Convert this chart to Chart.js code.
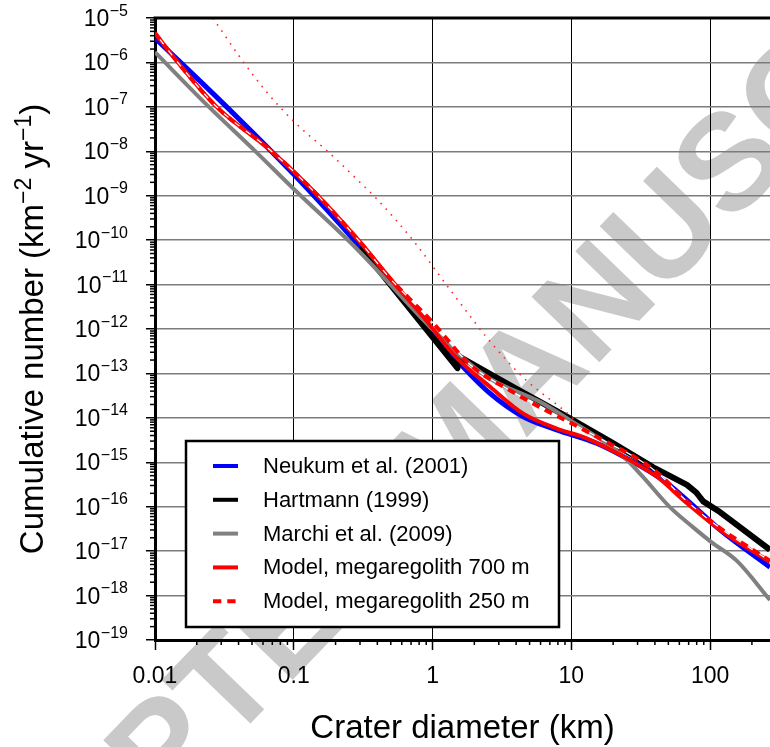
<!DOCTYPE html>
<html>
<head>
<meta charset="utf-8">
<script src="https://cdn.jsdelivr.net/npm/chart.js@4.4.1/dist/chart.umd.min.js"></script>
<style>
  html, body { margin: 0; padding: 0; background: #fff; }
  #wrap { width: 770px; height: 747px; }
</style>
</head>
<body>
<div id="wrap"><canvas id="craterChart" width="770" height="747"></canvas></div>
<script>
// values, stored as log10(D / km) and log10(N / km^-2 yr^-1)
const neukumLogD = [-2, -1.5, -1.0, -0.523, -0.2, 0.174, 0.414, 0.651, 0.894, 1.182, 1.422, 1.66, 1.833, 2.071, 2.431];
const neukumLogN = [-5.45, -6.95, -8.52, -10.15, -11.33, -12.70, -13.45, -13.97, -14.27, -14.57, -14.95, -15.40, -15.85, -16.52, -17.36];

const hartmannLogD = [-0.523, 0.18, 0.18, 0.579, 0.99, 1.3, 1.588, 1.833, 1.90, 1.95, 2.071, 2.431];
const hartmannLogN = [-10.15, -12.88, -12.60, -13.30, -14.01, -14.57, -15.11, -15.51, -15.68, -15.88, -16.12, -16.97];

const marchiLogD = [-2, -1.628, -1.267, -1.0, -0.545, -0.019, 0.2, 0.414, 0.774, 0.99, 1.3, 1.401, 1.516, 1.71, 1.876, 2.006, 2.193, 2.431];
const marchiLogN = [-5.77, -6.95, -8.03, -8.85, -10.2, -11.95, -12.6, -13.12, -13.64, -14.05, -14.68, -14.95, -15.33, -16.01, -16.46, -16.79, -17.22, -18.1];

const model700LogD = [-2, -1.82, -1.556, -1.171, -0.907, -0.523, -0.307, -0.069, 0.174, 0.414, 0.651, 0.894, 1.11, 1.422, 1.614, 1.833, 2.071, 2.431];
const model700LogN = [-5.34, -6.06, -7.0, -7.97, -8.74, -10.04, -10.86, -11.72, -12.65, -13.30, -13.90, -14.24, -14.46, -14.95, -15.32, -15.92, -16.52, -17.24];

const model250LogD = [-2, -1.82, -1.556, -1.171, -0.907, -0.523, -0.307, 0, 0.269, 0.579, 0.774, 1.012, 1.3, 1.444, 1.614, 1.833, 2.071, 2.431];
const model250LogN = [-5.34, -6.06, -7.0, -7.97, -8.74, -10.04, -10.86, -11.85, -12.80, -13.42, -13.76, -14.14, -14.62, -14.86, -15.22, -15.88, -16.48, -17.22];

const dottedLogD = [-1.65, -1.573, -1.393, -1.203, -0.986, -0.746, -0.516, -0.403, -0.139, 0.101, 0.246, 0.39, 0.656, 0.966, 1.026];
const dottedLogN = [-4.73, -5.05, -5.86, -6.64, -7.37, -8.03, -8.72, -9.07, -10.01, -11.01, -11.61, -12.19, -13.10, -13.88, -14.05];

const xDecades = [0.01, 0.1, 1, 10, 100];
const xTickLabels = ['0.01', '0.1', '1', '10', '100'];
const yExponents = [-19, -18, -17, -16, -15, -14, -13, -12, -11, -10, -9, -8, -7, -6, -5];

const seriesLabels = ['Neukum et al. (2001)', 'Hartmann (1999)', 'Marchi et al. (2009)',
  'Model, megaregolith 700 m', 'Model, megaregolith 250 m'];

const xMin = 0.01, xMax = 270;
const yMin = 1e-19, yMax = 1e-5;
const FONT = '"Liberation Sans", Arial, sans-serif';

function toPoints(logD, logN) {
  return logD.map((d, i) => ({ x: Math.pow(10, d), y: Math.pow(10, logN[i]) }));
}

// log ticks 1..9 x 10^n inside [min, max]
function logTicks(min, max) {
  const out = [];
  const e0 = Math.floor(Math.log10(min)), e1 = Math.ceil(Math.log10(max));
  for (let e = e0; e <= e1; e++) {
    for (let s = 1; s <= 9; s++) {
      const v = s * Math.pow(10, e);
      if (v >= min * 0.999 && v <= max * 1.001) out.push({ value: v, major: s === 1 });
    }
  }
  return out;
}

const decor = {
  id: 'decor',
  beforeDraw(chart) {
    const ctx = chart.ctx;
    ctx.save();
    ctx.fillStyle = '#fff';
    ctx.fillRect(0, 0, chart.width, chart.height);
    // watermark
    ctx.translate(460, 452);
    ctx.rotate(-46 * Math.PI / 180);
    ctx.fillStyle = '#c9c9ca';
    ctx.font = 'bold 137px ' + FONT;
    ctx.textAlign = 'center';
    ctx.textBaseline = 'middle';
    ctx.fillText('ACCEPTED MANUSCRIPT', 0, 0);
    ctx.restore();
  },
  afterDraw(chart) {
    const { ctx, chartArea: a, scales: { x, y } } = chart;
    ctx.save();

    // top frame line
    ctx.strokeStyle = '#000';
    ctx.lineWidth = 3;
    ctx.beginPath();
    ctx.moveTo(a.left - 1.5, a.top);
    ctx.lineTo(a.right, a.top);
    ctx.stroke();

    // minor ticks
    ctx.lineWidth = 1.5;
    x.ticks.forEach(t => {
      if (t.major) return;
      const px = x.getPixelForValue(t.value);
      ctx.beginPath(); ctx.moveTo(px, a.bottom); ctx.lineTo(px, a.bottom + 5); ctx.stroke();
    });
    y.ticks.forEach(t => {
      if (t.major) return;
      const py = y.getPixelForValue(t.value);
      ctx.beginPath(); ctx.moveTo(a.left - 5, py); ctx.lineTo(a.left, py); ctx.stroke();
    });

    // x tick labels
    ctx.fillStyle = '#000';
    ctx.font = '23px ' + FONT;
    ctx.textAlign = 'center';
    ctx.textBaseline = 'alphabetic';
    xDecades.forEach((v, i) => {
      ctx.fillText(xTickLabels[i], x.getPixelForValue(v), 683);
    });

    // y tick labels 10^n
    const labelRight = 128;
    yExponents.forEach(e => {
      const py = y.getPixelForValue(Math.pow(10, e));
      const sup = '\u2212' + Math.abs(e);
      ctx.font = '16px ' + FONT;
      const sw = ctx.measureText(sup).width;
      ctx.textAlign = 'left';
      ctx.fillText(sup, labelRight - sw, py - 2.5);
      ctx.font = '23px ' + FONT;
      ctx.textAlign = 'right';
      ctx.fillText('10', labelRight - sw - 0.5, py + 8);
    });

    // axis titles
    ctx.font = '33px ' + FONT;
    ctx.textAlign = 'center';
    ctx.fillText('Crater diameter (km)', (a.left + a.right) / 2, 738);

    ctx.save();
    ctx.translate(43, (a.top + a.bottom) / 2);
    ctx.rotate(-Math.PI / 2);
    const parts = [['Cumulative number (km', 33, 0], ['\u22122', 23, -12], [' yr', 33, 0], ['\u22121', 23, -12], [')', 33, 0]];
    let total = 0;
    parts.forEach(p => { ctx.font = p[1] + 'px ' + FONT; total += ctx.measureText(p[0]).width; });
    let cx = -total / 2;
    ctx.textAlign = 'left';
    parts.forEach(p => {
      ctx.font = p[1] + 'px ' + FONT;
      ctx.fillText(p[0], cx, p[2]);
      cx += ctx.measureText(p[0]).width;
    });
    ctx.restore();

    // legend box
    const box = { l: 186, t: 441, r: 559, b: 627 };
    ctx.fillStyle = '#fff';
    ctx.fillRect(box.l, box.t, box.r - box.l, box.b - box.t);
    ctx.strokeStyle = '#000';
    ctx.lineWidth = 2.5;
    ctx.strokeRect(box.l, box.t, box.r - box.l, box.b - box.t);
    ctx.font = '22px ' + FONT;
    ctx.textAlign = 'left';
    ctx.textBaseline = 'middle';
    const legendSets = chart.data.datasets.filter(d => d.label);
    legendSets.forEach((ds, i) => {
      const ly = 466 + i * 33.8;
      ctx.strokeStyle = ds.borderColor;
      ctx.lineWidth = 4;
      ctx.setLineDash(ds.borderDash ? [8.3, 6] : []);
      ctx.beginPath(); ctx.moveTo(213, ly); ctx.lineTo(238, ly); ctx.stroke();
      ctx.setLineDash([]);
      ctx.fillStyle = '#000';
      ctx.fillText(ds.label, 263, ly + 1);
    });
    ctx.restore();
  }
};

const ctxC = document.getElementById('craterChart').getContext('2d');

const model250Points = toPoints(model250LogD, model250LogN);

const dataC = {
  datasets: [{
    label: seriesLabels[0],
    data: toPoints(neukumLogD, neukumLogN),
    borderColor: 'rgb(0,0,255)',
    borderWidth: 5,
    cubicInterpolationMode: 'monotone',
    order: 7
  }, {
    label: seriesLabels[1],
    data: toPoints(hartmannLogD, hartmannLogN),
    borderColor: '#000',
    borderWidth: 6,
    tension: 0,
    order: 6
  }, {
    label: seriesLabels[2],
    data: toPoints(marchiLogD, marchiLogN),
    borderColor: 'rgb(128,128,128)',
    borderWidth: 4,
    cubicInterpolationMode: 'monotone',
    order: 5
  }, {
    label: seriesLabels[3],
    data: toPoints(model700LogD, model700LogN),
    borderColor: 'rgb(255,0,0)',
    borderWidth: 4,
    cubicInterpolationMode: 'monotone',
    order: 4
  }, {
    label: seriesLabels[4],
    data: model250Points,
    borderColor: 'rgb(255,0,0)',
    borderWidth: 4,
    borderDash: [8, 6],
    cubicInterpolationMode: 'monotone',
    order: 2
  }, {
    // thin white core seen in the gaps of the dashed pen
    label: '',
    data: model250Points,
    borderColor: '#fff',
    borderWidth: 1.2,
    cubicInterpolationMode: 'monotone',
    order: 3
  }, {
    label: '',
    data: toPoints(dottedLogD, dottedLogN),
    borderColor: 'rgb(255,40,40)',
    borderWidth: 1.6,
    borderDash: [1.6, 6],
    cubicInterpolationMode: 'monotone',
    order: 1
  }]
};

const configC = {
  type: 'line',
  data: dataC,
  options: {
    responsive: false,
    animation: false,
    devicePixelRatio: 1,
    parsing: false,
    normalized: true,
    layout: { padding: { left: 155, top: 18, right: 0, bottom: 107 } },
    elements: { point: { radius: 0 }, line: { borderCapStyle: 'butt', borderJoinStyle: 'round' } },
    datasets: { line: { clip: 0 } },
    plugins: { legend: { display: false }, tooltip: { enabled: false } },
    scales: {
      x: {
        type: 'logarithmic',
        min: xMin,
        max: xMax,
        afterBuildTicks: s => { s.ticks = logTicks(xMin, xMax); },
        afterFit: s => { s.height = 0; },
        ticks: { display: false, autoSkip: false },
        border: { color: '#000', width: 3 },
        grid: {
          color: c => (c.tick && c.tick.major ? '#000' : 'rgba(0,0,0,0)'),
          lineWidth: 1,
          tickColor: c => (c.tick && c.tick.major ? '#000' : 'rgba(0,0,0,0)'),
          tickLength: 10,
          tickWidth: 1.5
        }
      },
      y: {
        type: 'logarithmic',
        min: yMin,
        max: yMax,
        afterBuildTicks: s => { s.ticks = logTicks(yMin, yMax); },
        afterFit: s => { s.width = 0; },
        ticks: { display: false, autoSkip: false },
        border: { color: '#000', width: 3 },
        grid: {
          color: c => (c.tick && c.tick.major ? '#7c7c7c' : 'rgba(0,0,0,0)'),
          lineWidth: 1.5,
          tickColor: c => (c.tick && c.tick.major ? '#000' : 'rgba(0,0,0,0)'),
          tickLength: 9,
          tickWidth: 1.5
        }
      }
    }
  },
  plugins: [decor]
};

const craterChart = new Chart(ctxC, configC);
</script>
</body>
</html>
